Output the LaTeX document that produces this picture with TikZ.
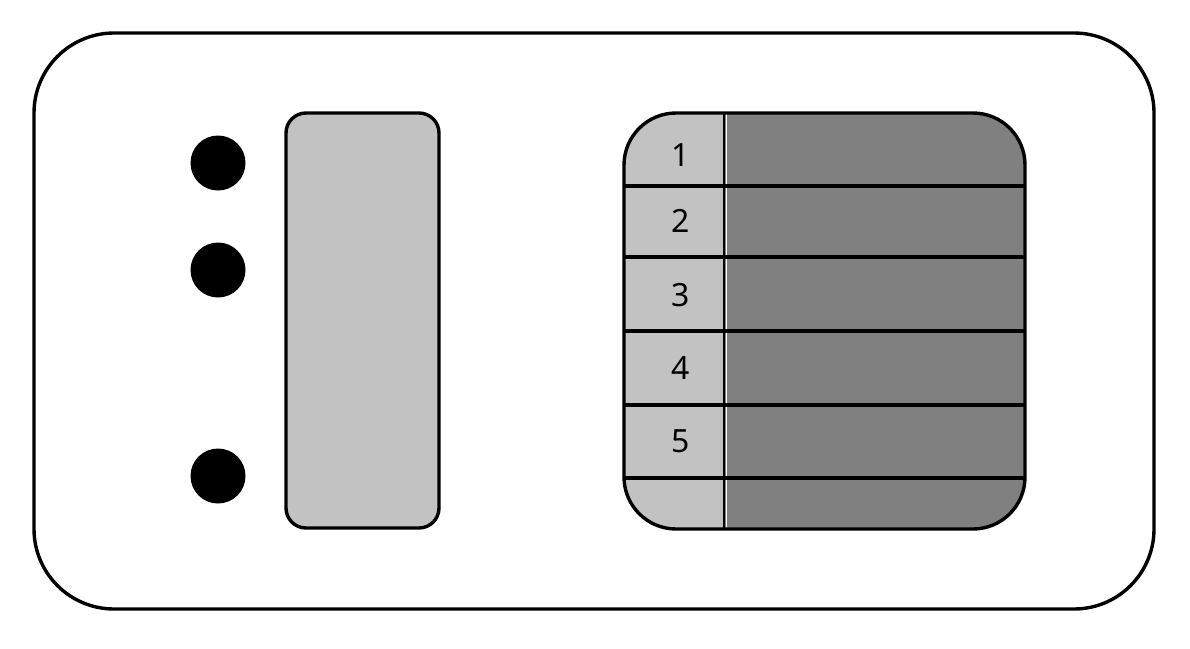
\documentclass[tikz,border=0pt]{standalone}
\usepackage{fontspec}
\setmainfont{Noto Sans}
\definecolor{lightg}{HTML}{C2C2C2}
\definecolor{darkg}{HTML}{808080}
\begin{document}
\begin{tikzpicture}[x=1pt,y=-1pt,
  outline/.style={draw=black,line width=3.4pt},
  dot/.style={circle,fill=black,minimum size=55pt,inner sep=0pt},
  num/.style={font=\fontsize{32}{32}\selectfont,text=black}]
\useasboundingbox (0,0) rectangle (1190,648);
% outer frame
\draw[outline,rounded corners=80pt] (34,33) rectangle (1154,609);
% dots
\node[dot] (d1) at (218,163) {};
\node[dot] (d2) at (218,270) {};
\node[dot] (d3) at (218,476) {};
% left bar
\draw[outline,fill=lightg,rounded corners=20pt] (286,113) rectangle (439,528);
% right panel
\begin{scope}
  \clip[rounded corners=52pt] (624,113) rectangle (1025,529);
  \fill[lightg] (624,113) rectangle (724,529);
  \fill[darkg] (724,113) rectangle (1025,529);
  \draw[white,line width=1pt] (726.5,113) -- (726.5,529);
  \draw[black,line width=2.2pt] (724,113) -- (724,529);
  \foreach \yy in {186,257,331,405,478} \draw[black,line width=3.4pt] (624,\yy) -- (1025,\yy);
\end{scope}
\draw[outline,rounded corners=52pt] (624,113) rectangle (1025,529);
\node[num] (n1) at (681,155) {1};
\node[num] (n2) at (681,221) {2};
\node[num] (n3) at (681,295) {3};
\node[num] (n4) at (681,368) {4};
\node[num] (n5) at (681,441) {5};
\end{tikzpicture}
\end{document}
